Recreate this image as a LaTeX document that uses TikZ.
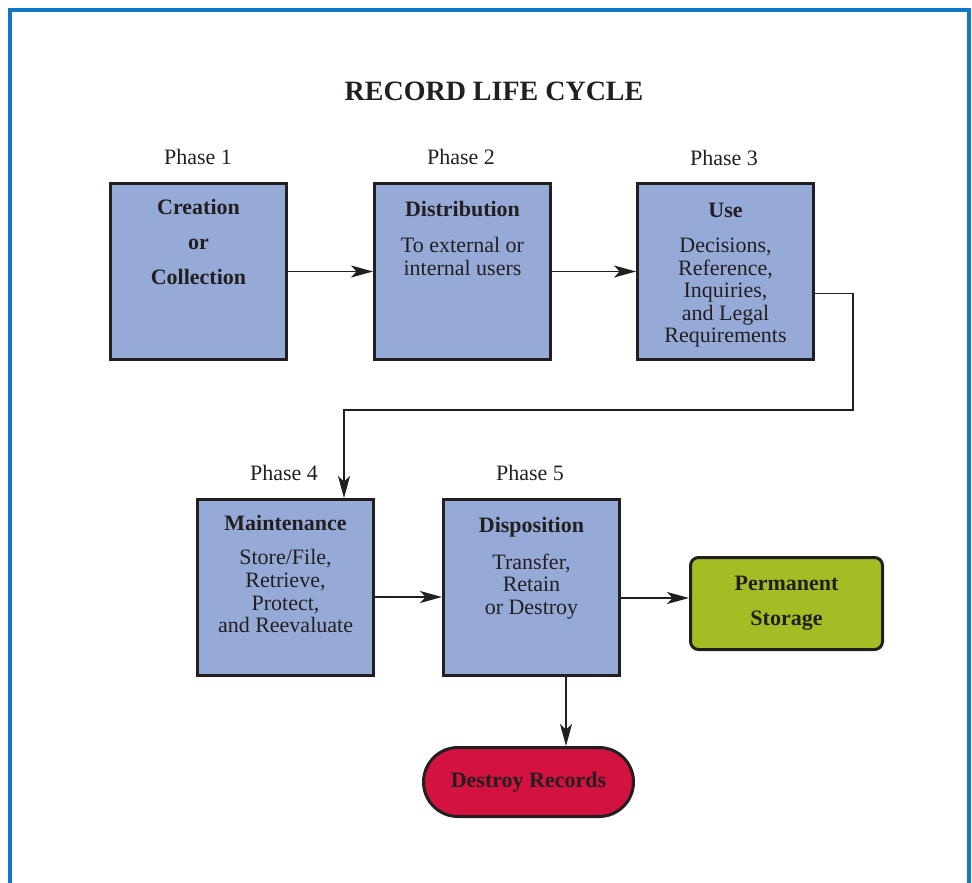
\documentclass[tikz,border=0pt]{standalone}
\usepackage{fontspec}
\setmainfont{Liberation Serif}
\usetikzlibrary{arrows.meta,shapes.misc}
\definecolor{frameblue}{HTML}{0F77C8}
\definecolor{phaseblue}{HTML}{96AAD8}
\definecolor{permgreen}{HTML}{A6BC24}
\definecolor{destroyred}{HTML}{D41240}
\definecolor{ink}{HTML}{231F20}

\begin{document}
\begin{tikzpicture}[x=0.5pt,y=-0.5pt,>={Stealth[length=11pt,width=6pt,inset=2.8pt]},
  every node/.style={align=center,text=ink,font=\fontsize{11}{11.3}\selectfont},
  phasebox/.style={draw=ink,line width=1.5pt,fill=phaseblue,minimum width=88pt,minimum height=88pt,inner sep=0pt},
  boxtext/.style={anchor=north,inner sep=0pt},
  endbox/.style={draw=ink,line width=1.5pt,inner sep=0pt,font=\fontsize{11}{11.3}\selectfont\bfseries},
  link/.style={draw=ink,line width=0.8pt,->}]
\useasboundingbox (0,0) rectangle (972,882);
\draw[frameblue,line width=1.6pt] (10,890) -- (10,10) -- (969,10) -- (969,890);
\node[font=\fontsize{14}{14}\selectfont\bfseries] (title) at (494,91) {RECORD LIFE CYCLE};
% phases, top row
\node (ph1) at (198,157) {Phase 1};
\node (ph2) at (461,157) {Phase 2};
\node (ph3) at (724,158) {Phase 3};
\node[phasebox] (create) at (198.5,271.5) {};
\node[phasebox] (dist) at (462.5,271.5) {};
\node[phasebox] (use) at (725.5,271.5) {};
\node[boxtext] (create txt) at ([yshift=-8.5pt]create.north) {\textbf{Creation}\\[6.2pt]\textbf{or}\\[6.2pt]\textbf{Collection}};
\node[boxtext] (dist txt) at ([yshift=-9.5pt]dist.north) {\textbf{Distribution}\\[6.6pt]To external or\\internal users};
\node[boxtext] (use txt) at ([yshift=-10.3pt]use.north) {\textbf{Use}\\[6.2pt]Decisions,\\Reference,\\Inquiries,\\and Legal\\Requirements};
% phases, bottom row
\node (ph4) at (284,473) {Phase 4};
\node (ph5) at (530,473) {Phase 5};
\node[phasebox] (maint) at (285.5,587.5) {};
\node[phasebox] (dispo) at (531.5,587.5) {};
\node[boxtext] (maint txt) at ([yshift=-8.5pt]maint.north) {\textbf{Maintenance}\\[5.8pt]Store/File,\\Retrieve,\\Protect,\\and Reevaluate};
\node[boxtext] (dispo txt) at ([yshift=-9.5pt]dispo.north) {\textbf{Disposition}\\[7pt]Transfer,\\Retain\\or Destroy};
\node[endbox,fill=permgreen,rounded corners=4pt,minimum width=96pt,minimum height=46pt] (perm) at (786.5,603.5) {Permanent\\[6.2pt]Storage};
\node[endbox,fill=destroyred,rounded rectangle,minimum width=105pt,minimum height=34.5pt] (destroy) at (528.5,782) {Destroy Records};
\coordinate (turn) at (853,410);
\draw[link] (create)--(dist);\draw[link] (dist)--(use);
\draw[link] ([yshift=-11pt]use.east) -| (turn) -| ([xshift=29.25pt]maint.north);
\draw[link] ([yshift=-4.75pt]maint.east) coordinate (m) -- (m -| dispo.west);
\draw[link] ([yshift=-5.25pt]dispo.east) coordinate (p) -- (p -| perm.west);
\draw[link] ([xshift=17.25pt]dispo.south) coordinate (d) -- (d |- destroy.north);
\end{tikzpicture}
\end{document}
